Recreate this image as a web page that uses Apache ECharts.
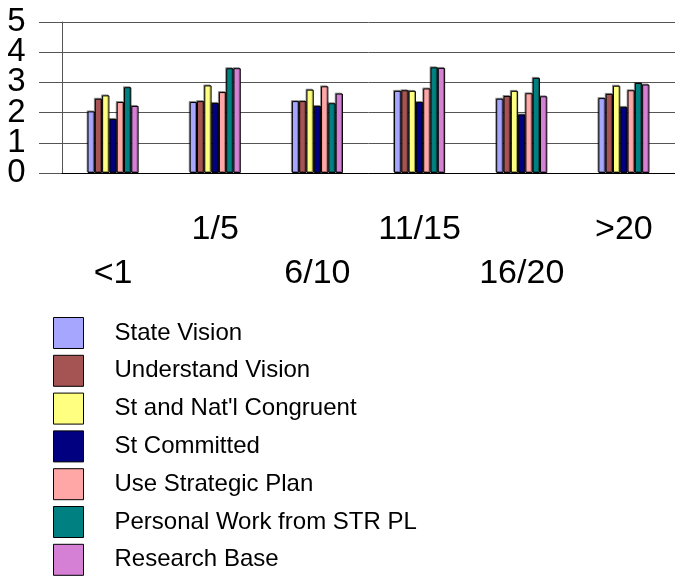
<!DOCTYPE html>
<html>
<head>
<meta charset="utf-8">
<style>
  html, body { margin: 0; padding: 0; background: #fff; }
  #chart { width: 675px; height: 576px; }
</style>
<script src="https://cdn.jsdelivr.net/npm/echarts@6/dist/echarts.min.js"></script>
</head>
<body>
<div id="chart"></div>
<script>
// categories (years)
const categories = ["<1", "1/5", "6/10", "11/15", "16/20", ">20"];
const yTicks = [0, 1, 2, 3, 4, 5];

// series values per category
const stateVision     = [2.04, 2.35, 2.38, 2.72, 2.46, 2.48];
const understandVis   = [2.46, 2.38, 2.38, 2.74, 2.55, 2.62];
const stNatCongruent  = [2.57, 2.90, 2.76, 2.72, 2.72, 2.89];
const stCommitted     = [1.79, 2.32, 2.22, 2.35, 1.94, 2.19];
const useStrategic    = [2.35, 2.68, 2.87, 2.80, 2.64, 2.74];
const personalWork    = [2.84, 3.47, 2.31, 3.50, 3.15, 2.98];
const researchBase    = [2.22, 3.47, 2.63, 3.48, 2.54, 2.93];

const seriesNames = [
  "State Vision", "Understand Vision", "St and Nat'l Congruent", "St Committed",
  "Use Strategic Plan", "Personal Work from STR PL", "Research Base"
];
const seriesData = [stateVision, understandVis, stNatCongruent, stCommitted,
  useStrategic, personalWork, researchBase];
const colors = ["#A6A6FF", "#A65353", "#FFFF80", "#000080", "#FFA6A6", "#008080", "#D580D5"];

const chart = echarts.init(document.getElementById("chart"));
const font = "Liberation Sans, Arial, sans-serif";

const barSeries = seriesNames.map((name, k) => ({
  name: name,
  type: "bar",
  xAxisIndex: 0,
  yAxisIndex: 0,
  data: seriesData[k],
  barGap: "0%",
  barCategoryGap: "50%",
  itemStyle: {
    color: colors[k],
    borderColor: "#000",
    borderWidth: 1,
    shadowColor: "rgba(0,0,0,0.35)",
    shadowOffsetX: -1,
    shadowOffsetY: -1
  }
}));

// value labels + gridline stubs left of the axis live in a narrow second grid
const tickLabelSeries = {
  type: "scatter",
  xAxisIndex: 2,
  yAxisIndex: 1,
  silent: true,
  symbolSize: 1,
  itemStyle: { color: "rgba(0,0,0,0)" },
  data: yTicks.map((v) => [0, v]),
  label: {
    show: true,
    position: "left",
    distance: 13,
    fontSize: 33,
    fontFamily: font,
    color: "#000",
    opacity: 1,
    textBorderWidth: 0,
    formatter: (p) => String(p.value[1])
  }
};

const option = {
  animation: false,
  textStyle: { fontFamily: font, color: "#000" },
  grid: [
    { left: 62, right: 0, top: 22, bottom: 403 },
    { left: 39, width: 23, top: 22, bottom: 403 }
  ],
  legend: {
    orient: "vertical",
    left: 53,
    top: 317,
    padding: 0,
    height: 270,
    itemWidth: 30,
    itemHeight: 31,
    itemGap: 5.8,
    icon: "rect",
    data: seriesNames,
    itemStyle: { borderColor: "#000", borderWidth: 1 },
    textStyle: { fontFamily: font, fontSize: 24, color: "#000", padding: [0, 0, 0, 26] }
  },
  xAxis: [
    {
      type: "category",
      data: categories,
      axisLine: { lineStyle: { color: "#000", width: 1 } },
      axisTick: {
        alignWithLabel: true,
        length: 67,
        interval: (i) => i % 2 === 0,
        lineStyle: { color: "#555" }
      },
      axisLabel: {
        interval: (i) => i % 2 === 0,
        margin: 84,
        fontSize: 34,
        fontFamily: font,
        color: "#000"
      }
    },
    {
      type: "category",
      data: categories,
      position: "bottom",
      axisLine: { show: false },
      axisTick: {
        alignWithLabel: true,
        length: 23,
        interval: (i) => i % 2 === 1,
        lineStyle: { color: "#555" }
      },
      axisLabel: {
        interval: (i) => i % 2 === 1,
        margin: 40,
        fontSize: 34,
        fontFamily: font,
        color: "#000"
      }
    },
    {
      type: "value",
      gridIndex: 1,
      min: 0,
      max: 1,
      axisLine: { show: false },
      axisTick: { show: false },
      axisLabel: { show: false },
      splitLine: { show: false }
    }
  ],
  yAxis: [
    {
      type: "value",
      min: 0,
      max: 5,
      interval: 1,
      axisLine: { show: true, lineStyle: { color: "#555" } },
      axisTick: { show: false },
      axisLabel: { show: false },
      splitLine: { show: true, lineStyle: { color: "#555", width: 1 } }
    },
    {
      type: "value",
      gridIndex: 1,
      min: 0,
      max: 5,
      interval: 1,
      axisLine: { show: false },
      axisTick: { show: false },
      axisLabel: { show: false },
      splitLine: { show: true, lineStyle: { color: "#555", width: 1 } }
    }
  ],
  series: barSeries.concat([tickLabelSeries])
};

chart.setOption(option);
</script>
</body>
</html>
